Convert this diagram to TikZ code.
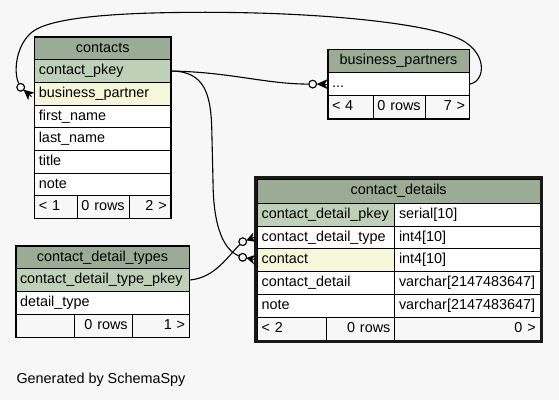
\documentclass[tikz,border=0pt]{standalone}
\usepackage{fontspec}
\setmainfont{Liberation Sans}
\usetikzlibrary{calc}
\definecolor{bgc}{HTML}{F7F7F7}
\definecolor{hdr}{HTML}{9BAB96}
\definecolor{pkc}{HTML}{BED1B8}
\definecolor{fkc}{HTML}{F4F7DA}
\definecolor{ftc}{HTML}{F7F7F7}
\newcommand\fs{\fontsize{14.4}{17}\selectfont}
\newcommand\mycrow[2]{%
  \fill ($(#1)!3.8pt!(#2)$) -- ($(#2)!5pt!90:(#1)$) -- ($(#2)!3pt!(#1)$) -- ($(#2)!5pt!-90:(#1)$) -- cycle;
  \draw[line width=1pt] ($(#2)!3pt!(#1)$) -- (#2);}
\tikzset{
  cell/.style={draw=black, line width=1pt, anchor=north west, inner xsep=4.3pt, inner ysep=0pt,
    outer sep=0pt, text height=10.3pt, text depth=3pt, font=\fs, fill=white},
  cw/.code={\pgfmathsetmacro\mytw{#1-8.6}\edef\mytmp{\noexpand\pgfkeysalso{minimum width=#1pt,text width=\mytw pt}}\mytmp},
  lft/.style={align=left}, rgt/.style={align=right}, ctr/.style={align=center},
  odot/.style={circle, draw, fill=bgc, line width=1pt, minimum size=7.6pt, inner sep=0pt},
  rel/.style={line width=1.1pt},
  tbl/.style={line width=1.6pt},
}
\begin{document}
\begin{tikzpicture}[x=1pt,y=-1pt]
\fill[bgc] (0,0) rectangle (559,400);
\useasboundingbox (0,0) rectangle (559,400);

% contacts
\node[cell, cw=136.5, minimum height=22.7pt, fill=hdr, ctr] (ch) at (34.5,37) {contacts};
\node[cell, cw=136.5, minimum height=22.7pt, fill=pkc, lft] (cpk) at (34.5,59.7) {contact\_pkey};
\node[cell, cw=136.5, minimum height=22.7pt, fill=fkc, lft] (cbp) at (34.5,82.4) {business\_partner};
\node[cell, cw=136.5, minimum height=22.7pt, lft] (cfn) at (34.5,105.1) {first\_name};
\node[cell, cw=136.5, minimum height=22.7pt, lft] (cln) at (34.5,127.8) {last\_name};
\node[cell, cw=136.5, minimum height=22.7pt, lft] (cti) at (34.5,150.5) {title};
\node[cell, cw=136.5, minimum height=22.7pt, lft] (cno) at (34.5,173.2) {note};
\node[cell, cw=42.5, minimum height=22.7pt, fill=ftc, lft] (cf1) at (34.5,195.9) {< 1};
\node[cell, cw=52, minimum height=22.7pt, fill=ftc, rgt] (cf2) at (77,195.9) {0 rows};
\node[cell, cw=42, minimum height=22.7pt, fill=ftc, rgt] (cf3) at (129,195.9) {2 >};
\draw[tbl] (ch.north west) rectangle (cf3.south east);

% business_partners
\node[cell, cw=141.6, minimum height=23.2pt, fill=hdr, ctr] (bh) at (327.7,49.3) {business\_partners};
\node[cell, cw=141.6, minimum height=23.2pt, lft] (bd) at (327.7,72.5) {...};
\node[cell, cw=45.3, minimum height=23pt, fill=ftc, lft] (bf1) at (327.7,95.7) {< 4};
\node[cell, cw=52, minimum height=23pt, fill=ftc, rgt] (bf2) at (373,95.7) {0 rows};
\node[cell, cw=44.3, minimum height=23pt, fill=ftc, rgt] (bf3) at (425,95.7) {7 >};
\draw[tbl] (bh.north west) rectangle (bf3.south east);

% contact_details
\node[cell, cw=282.7, minimum height=23.9pt, fill=hdr, ctr] (dh) at (257.3,179.3) {contact\_details};
\node[cell, cw=137.4, minimum height=22.8pt, fill=pkc, lft] (dpk) at (257.3,203.2) {contact\_detail\_pkey};
\node[cell, cw=145.3, minimum height=22.8pt, lft] (dpkv) at (394.7,203.2) {serial[10]};
\node[cell, cw=137.4, minimum height=22.8pt, lft] (dty) at (257.3,226) {contact\_detail\_type};
\node[cell, cw=145.3, minimum height=22.8pt, lft] (dtyv) at (394.7,226) {int4[10]};
\node[cell, cw=137.4, minimum height=22.8pt, fill=fkc, lft] (dco) at (257.3,248.8) {contact};
\node[cell, cw=145.3, minimum height=22.8pt, lft] (dcov) at (394.7,248.8) {int4[10]};
\node[cell, cw=137.4, minimum height=22.8pt, lft] (dcd) at (257.3,271.6) {contact\_detail};
\node[cell, cw=145.3, minimum height=22.8pt, lft] (dcdv) at (394.7,271.6) {varchar[2147483647]};
\node[cell, cw=137.4, minimum height=22.8pt, lft] (dno) at (257.3,294.4) {note};
\node[cell, cw=145.3, minimum height=22.8pt, lft] (dnov) at (394.7,294.4) {varchar[2147483647]};
\node[cell, cw=69.4, minimum height=22.8pt, fill=ftc, lft] (df1) at (257.3,317.2) {< 2};
\node[cell, cw=68, minimum height=22.8pt, fill=ftc, rgt] (df2) at (326.7,317.2) {0 rows};
\node[cell, cw=145.3, minimum height=22.8pt, fill=ftc, rgt] (df3) at (394.7,317.2) {0 >};
\draw[line width=3pt, draw=black!90] ([shift={(-1.5,-1.5)}]dh.north west) rectangle ([shift={(1.5,1.5)}]df3.south east);

% contact_detail_types
\node[cell, cw=173.6, minimum height=22.7pt, fill=hdr, ctr] (th) at (15.7,246) {contact\_detail\_types};
\node[cell, cw=173.6, minimum height=22.7pt, fill=pkc, lft] (tpk) at (15.7,268.7) {contact\_detail\_type\_pkey};
\node[cell, cw=173.6, minimum height=22.7pt, lft] (tdt) at (15.7,291.4) {detail\_type};
\node[cell, cw=58.6, minimum height=23.2pt, fill=ftc, lft] (tf1) at (15.7,314.1) {};
\node[cell, cw=57.7, minimum height=23.2pt, fill=ftc, rgt] (tf2) at (74.3,314.1) {0 rows};
\node[cell, cw=57.3, minimum height=23.2pt, fill=ftc, rgt] (tf3) at (132,314.1) {1 >};
\draw[tbl] (th.north west) rectangle (tf3.south east);

% circles and crow end points
\node[odot] (o1) at (20.7,87.3) {};
\node[odot] (o2) at (312.7,84.1) {};
\node[odot] (o3) at (242.7,257.3) {};
\node[odot] (o4) at (242.7,241.7) {};
\coordinate (e1) at (31.5,96.5);
\coordinate (e2) at (bd.west);
\coordinate (e3) at (255,259.5);
\coordinate (e4) at (255,237.2);

% connectors
\draw[rel] (bd.east) .. controls (486,82) and (489,50) .. (455,37)
  .. controls (420,23) and (320,12) .. (200,12.3)
  .. controls (110,12.5) and (55,18) .. (35,30)
  .. controls (16,42) and (13,72) .. (o1);
\draw[rel] (cpk.east) .. controls (230,72) and (265,84) .. (o2);
\draw[rel] (cpk.east) .. controls (205,71) and (211,95) .. (211.8,130) -- (213.2,190)
  .. controls (214.5,228) and (224,250) .. (o3);
\draw[rel] (tpk.east) .. controls (215,278) and (228,256) .. (o4);

% redraw circles on top
\node[odot] at (o1) {};
\node[odot] at (o2) {};
\node[odot] at (o3) {};
\node[odot] at (o4) {};
\mycrow{o1}{e1}
\mycrow{o2}{e2}
\mycrow{o3}{e3}
\mycrow{o4}{e4}

\node[anchor=base west, inner sep=0pt, font=\fs] (gen) at (16.3,383.7) {Generated by SchemaSpy};
\end{tikzpicture}
\end{document}
